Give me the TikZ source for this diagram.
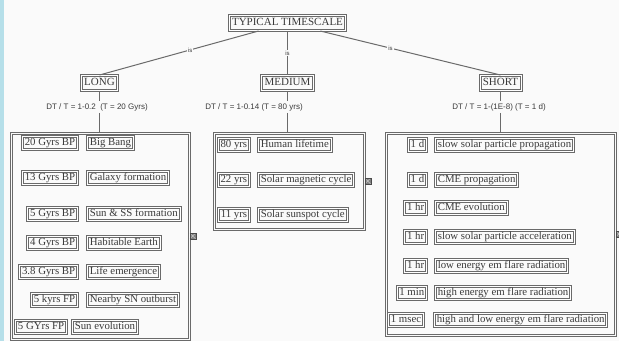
\documentclass[tikz,border=0pt]{standalone}
\usepackage{fontspec}
\setmainfont{Liberation Serif}
\newfontfamily\labelfont{Liberation Sans}
\definecolor{bgc}{HTML}{FAFAFA}
\definecolor{strip}{HTML}{B6DFE9}
\definecolor{ink}{HTML}{3A3A3A}
\definecolor{frame}{HTML}{6A6A6A}
\begin{document}
\begin{tikzpicture}[x=1pt,y=-1pt,
  box/.style={draw=frame, double=white, double distance=1pt, line width=1pt,
    inner xsep=2.3pt, inner ysep=0pt, text height=7pt, text depth=2pt,
    minimum height=13pt, font=\fontsize{10.8}{12}\selectfont, text=ink},
  headbox/.style={box, font=\fontsize{11}{12}\selectfont, inner xsep=2.8pt,
    text height=8pt, text depth=2.5pt, minimum height=15pt},
  group/.style={draw=frame, double=bgc, double distance=1pt, line width=1pt,
    anchor=north west, inner sep=0pt},
  link/.style={draw=frame, line width=1pt},
  islabel/.style={font={\labelfont\fontsize{6}{7}\selectfont}, fill=bgc, inner sep=1pt, text=ink},
  ratio/.style={font={\labelfont\fontsize{8}{9}\selectfont}, text=ink, inner sep=2pt},
  toggle/.style={draw=frame!70!black, fill=frame!85, minimum size=6pt, inner sep=0pt,
    anchor=west,
    path picture={\draw[white!75!gray, line width=0.4pt]
      (path picture bounding box.south west) -- (path picture bounding box.north east)
      (path picture bounding box.north west) -- (path picture bounding box.south east);}}
]
\useasboundingbox (0,0) rectangle (619,341);
\fill[bgc] (0,0) rectangle (619,341);
\fill[strip] (0,0) rectangle (4,341);

% root and the three classes
\node[headbox] (top) at (287.5,23) {TYPICAL TIMESCALE};
\node[headbox] (long) at (99.5,83) {LONG};
\node[headbox] (medium) at (287.5,83) {MEDIUM};
\node[headbox] (short) at (500.5,83) {SHORT};

\draw[link] (top) -- (long.north) node[islabel, pos=0.43] {is};
\draw[link] (top) -- (medium) node[islabel, pos=0.5] {is};
\draw[link] (top) -- (short.north) node[islabel, pos=0.39] {is};

% ratio labels
\node[ratio] (llab) at (97,107) {DT / T = 1-0.2 \ (T = 20 Gyrs)};
\node[ratio] (mlab) at (254,107) {DT / T = 1-0.14 (T = 80 yrs)};
\node[ratio] (slab) at (499,107) {DT / T = 1-(1E-8) (T = 1 d)};

% group frames
\node[group, minimum width=178pt, minimum height=206pt] (lgroup) at (10.5,132.5) {};
\node[group, minimum width=150pt, minimum height=96pt] (mgroup) at (213.5,132.5) {};
\node[group, minimum width=229pt, minimum height=202pt] (sgroup) at (385.5,132.5) {};

\draw[link] (long) -- (long |- llab.north);
\draw[link] (long |- llab.south) -- (long |- lgroup.north);
\draw[link] (medium) -- (medium |- mlab.north);
\draw[link] (medium |- mlab.south) -- (medium |- mgroup.north);
\draw[link] (short) -- (short |- slab.north);
\draw[link] (short |- slab.south) -- (short |- sgroup.north);

% long timescales
\node[box, anchor=east] (l1t) at (78,143) {20 Gyrs BP};
\node[box, anchor=west] (l1e) at (87,143) {Big Bang};
\node[box, anchor=east] (l2t) at (78,178) {13 Gyrs BP};
\node[box, anchor=west] (l2e) at (87,178) {Galaxy formation};
\node[box, anchor=east] (l3t) at (78,214) {5 Gyrs BP};
\node[box, anchor=west] (l3e) at (87,214) {Sun \& SS formation};
\node[box, anchor=east] (l4t) at (78,243) {4 Gyrs BP};
\node[box, anchor=west] (l4e) at (87,243) {Habitable Earth};
\node[box, anchor=east] (l5t) at (78,272) {3.8 Gyrs BP};
\node[box, anchor=west] (l5e) at (87,272) {Life emergence};
\node[box, anchor=east] (l6t) at (78,300) {5 kyrs FP};
\node[box, anchor=west] (l6e) at (87,300) {Nearby SN outburst};
\node[box, anchor=east] (l7t) at (67,327) {5 GYrs FP};
\node[box, anchor=west] (l7e) at (72,327) {Sun evolution};

% medium timescales
\node[box, anchor=east] (m1t) at (250,145) {80 yrs};
\node[box, anchor=west] (m1e) at (258,145) {Human lifetime};
\node[box, anchor=east] (m2t) at (250,180) {22 yrs};
\node[box, anchor=west] (m2e) at (258,180) {Solar magnetic cycle};
\node[box, anchor=east] (m3t) at (250,215) {11 yrs};
\node[box, anchor=west] (m3e) at (258,215) {Solar sunspot cycle};

% short timescales
\node[box, anchor=east] (s1t) at (427,145) {1 d};
\node[box, anchor=west] (s1e) at (435,145) {slow solar particle propagation};
\node[box, anchor=east] (s2t) at (427,180) {1 d};
\node[box, anchor=west] (s2e) at (435,180) {CME propagation};
\node[box, anchor=east] (s3t) at (427,208) {1 hr};
\node[box, anchor=west] (s3e) at (435,208) {CME evolution};
\node[box, anchor=east] (s4t) at (427,237) {1 hr};
\node[box, anchor=west] (s4e) at (435,237) {slow solar particle acceleration};
\node[box, anchor=east] (s5t) at (427,266) {1 hr};
\node[box, anchor=west] (s5e) at (435,266) {low energy em flare radiation};
\node[box, anchor=east] (s6t) at (427,293) {1 min};
\node[box, anchor=west] (s6e) at (435,293) {high energy em flare radiation};
\node[box, anchor=west] (s7t) at (388,320) {1 msec};
\node[box, anchor=west] (s7e) at (434,320) {high and low energy em flare radiation};

% collapse toggles on the group frames
\node[toggle] (ltog) at (lgroup.east) {};
\node[toggle] (mtog) at (mgroup.east) {};
\node[toggle] (stog) at (sgroup.east) {};
\end{tikzpicture}
\end{document}
